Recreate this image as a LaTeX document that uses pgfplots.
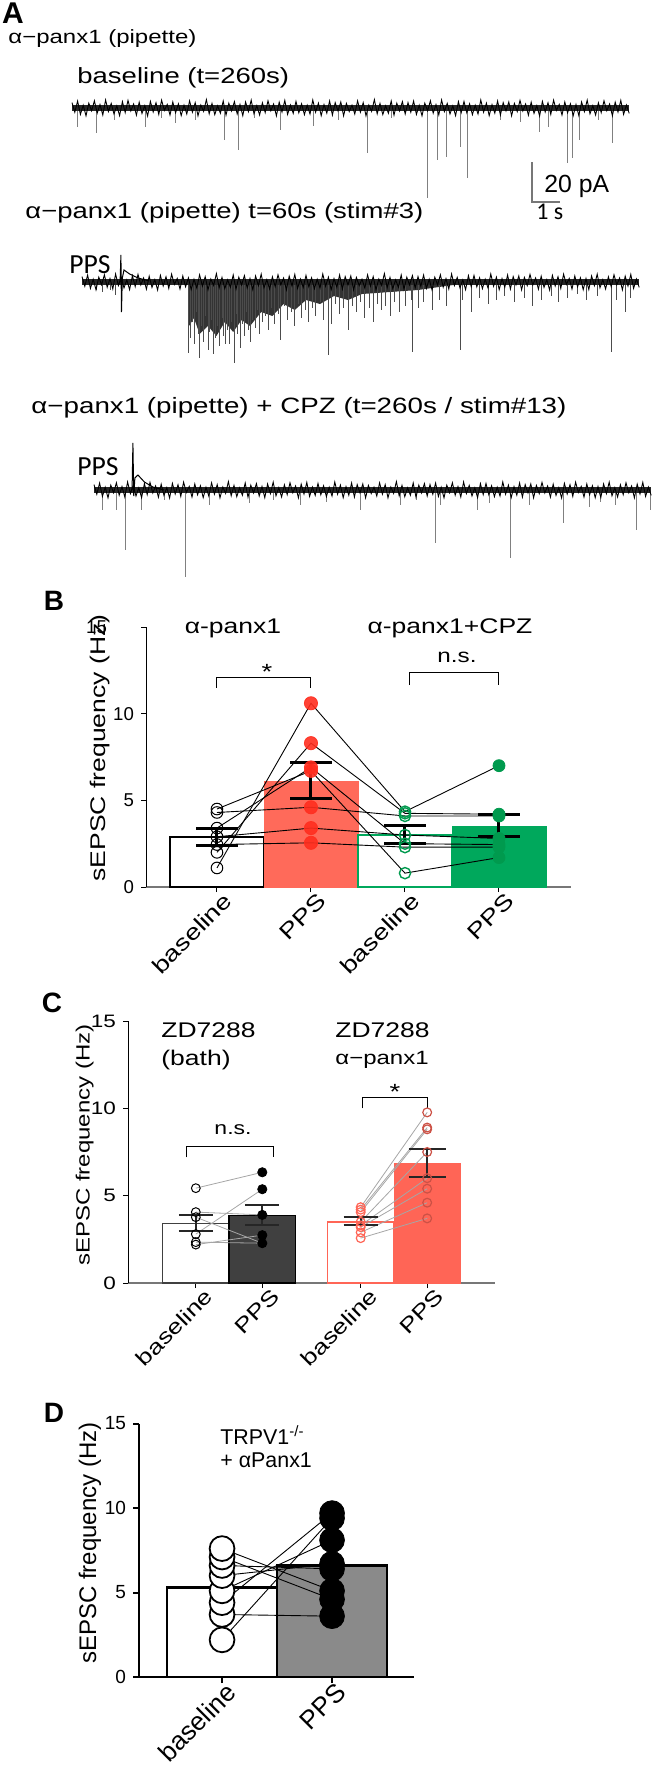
\documentclass[border=0pt]{standalone}
\usepackage{pgfplots}
\pgfplotsset{compat=1.18}
\usepackage{pgfplotstable}
\usepackage{fontspec}
\setmainfont{Liberation Sans}
\newfontfamily\wide[FakeStretch=1.25]{Liberation Sans}
\newfontfamily\carl{Carlito}
\newcommand{\fs}[1]{\fontsize{#1}{#1}\selectfont}
\definecolor{redbar}{HTML}{FF6A5A}
\definecolor{reddot}{HTML}{FF2E1F}
\definecolor{greenbar}{HTML}{00A85C}
\definecolor{greendot}{HTML}{009A4E}
\definecolor{darkbar}{HTML}{404040}
\definecolor{graybar}{HTML}{8A8A8A}
\definecolor{redC}{HTML}{FF6556}
\definecolor{axgray}{HTML}{777777}

% sampled baseline noise (pA), one sample every 0.1 s
\pgfplotstableread[row sep=\\]{y\\
2.7\\-2.1\\3.5\\-3.2\\1.4\\-3.9\\2.4\\-1.4\\3.6\\-2.6\\1.7\\-3.5\\4.0\\-1.8\\2.3\\-3.0\\1.1\\-3.8\\3.2\\-2.3\\
3.8\\-1.5\\2.0\\-3.6\\2.9\\-2.7\\1.2\\-4.0\\3.3\\-2.0\\2.6\\-3.2\\3.9\\-1.2\\1.8\\-3.5\\3.0\\-2.4\\2.1\\-3.8\\
1.4\\-3.0\\3.6\\-2.1\\2.7\\-3.9\\1.5\\-1.7\\4.2\\-2.9\\2.3\\-3.3\\1.1\\-2.6\\3.5\\-3.6\\2.4\\-1.5\\3.2\\-3.0\\
1.8\\-3.8\\3.0\\-1.8\\3.9\\-2.9\\1.2\\-3.5\\2.6\\-2.3\\3.6\\-1.4\\2.0\\-3.9\\2.9\\-2.0\\3.8\\-3.2\\1.5\\-2.7\\
3.3\\-2.4\\2.1\\-3.3\\1.4\\-3.0\\4.0\\-2.1\\2.4\\-3.8\\1.7\\-2.6\\3.5\\-3.5\\2.7\\-1.5\\3.0\\-3.9\\2.3\\-1.8\\
1.4\\-3.0\\3.6\\-2.1\\2.7\\-3.9\\1.5\\-1.7\\4.2\\-2.9\\2.3\\-3.3\\1.1\\-2.6\\3.5\\-3.6\\2.4\\-1.5\\3.2\\-3.0\\
2.7\\-2.1\\3.5\\-3.2\\1.4\\-3.9\\2.4\\-1.4\\3.6\\-2.6\\1.7\\-3.5\\4.0\\-1.8\\2.3\\-3.0\\1.1\\-3.8\\3.2\\-2.3\\
3.3\\-2.4\\2.1\\-3.3\\1.4\\-3.0\\4.0\\-2.1\\2.4\\-3.8\\1.7\\-2.6\\3.5\\-3.5\\2.7\\-1.5\\3.0\\-3.9\\2.3\\-1.8\\
3.8\\-1.5\\2.0\\-3.6\\2.9\\-2.7\\1.2\\-4.0\\3.3\\-2.0\\2.6\\-3.2\\3.9\\-1.2\\1.8\\-3.5\\3.0\\-2.4\\2.1\\-3.8\\
1.8\\-3.8\\3.0\\-1.8\\3.9\\-2.9\\1.2\\-3.5\\2.6\\-2.3\\3.6\\-1.4\\2.0\\-3.9\\2.9\\-2.0\\3.8\\-3.2\\1.5\\-2.7\\
}\noisetab

\pgfplotsset{
  trace/.style={scale only axis, hide axis, clip=false, width=280pt, height=70pt,
    xmin=0, xmax=20, ymin=-50, ymax=20, anchor=south west},
  spikes/.style={ycomb, black!50, line width=0.5pt},
  noise/.style={black, line width=0.45pt},
  band/.style={black!85, line width=3pt},
  barax/.style={anchor=south west, scale only axis, ymin=0, ymax=15, clip=false,
    axis x line*=bottom, axis y line*=left, axis line style={-},
    tick align=outside},
  ebar/.style={unbounded coords=jump},
}

\begin{document}
\begin{tikzpicture}
\useasboundingbox (0,0) rectangle (328pt,-889.5pt);

% ---------------- Panel A traces ----------------
\begin{axis}[trace, at={(36pt,-104pt)}]
\addplot[spikes] coordinates {(0.18,-9.5)(0.86,-12.5)(1.5,-6)(2.64,-9.5)(3.2,-5)(3.71,-7.5)(4.4,-6)(5.43,-16)(5.93,-21)(6.5,-5)(7.43,-11)(8.64,-9)(9.5,-6)(10.57,-22.5)(11.4,-5)(12.68,-45)(13.04,-26)(13.39,-24.5)(13.86,-19.5)(14.11,-35)(15.3,-6)(16.0,-7)(16.71,-12)(17.0,-9.5)(17.68,-27.5)(17.89,-25)(18.14,-16)(18.8,-6)(19.32,-17.5)};
\addplot[band] coordinates {(0,0)(19.9,0)};
\addplot[noise] table[x expr=\coordindex/10, y=y]{\noisetab};
\addplot[axgray, line width=0.6pt] coordinates {(16.43,-27)(16.43,-47)(17.43,-47)};
\end{axis}

\begin{axis}[trace, at={(41pt,-191pt)}]
\addplot[fill=black!80, draw=none] coordinates {(3.8,0)(3.82,-22)(4.0,-18)(4.2,-26)(4.5,-22)(4.8,-27)(5.1,-20)(5.4,-25)(5.7,-19)(6.0,-22)(6.4,-15)(6.8,-17)(7.2,-11)(7.6,-14)(8.0,-9)(8.5,-11)(9,-7)(9.5,-9)(10,-6)(11,-5)(12,-4)(13,-2)(14,0)} \closedcycle;
\addplot[spikes, black!70] coordinates {(0.5,-4)(0.72,-5)(1.0,-4)(1.18,-6.5)
(3.8,-35.5)(3.87,-28)(3.95,-20)(4.0,-31)(4.08,-15)(4.15,-26)(4.2,-38)(4.28,-22)(4.35,-30)(4.42,-17)(4.5,-34)(4.56,-25)(4.63,-19)(4.7,-36)(4.78,-28)(4.85,-22)(4.92,-32)(5.0,-18)(5.06,-27)(5.13,-31)(5.2,-24)(5.28,-31)(5.35,-20)(5.43,-40.5)(5.5,-16)(5.57,-26)(5.65,-33)(5.72,-21)(5.8,-27)(5.88,-15)(5.95,-24)(6.02,-30)(6.1,-19)(6.18,-23)(6.26,-14)(6.35,-26)(6.45,-20)(6.55,-17)(6.65,-24)(6.75,-13)(6.87,-21)(7.0,-16)(7.1,-29)(7.22,-12)(7.35,-19)(7.48,-15)(7.6,-22)(7.72,-11)(7.85,-18)(7.98,-14)(8.1,-20)(8.22,-13)(8.35,-17)(8.5,-10)(8.62,-19)(8.8,-36.5)(8.9,-21)(9.05,-11)(9.2,-16)(9.35,-13)(9.5,-24)(9.65,-12)(9.8,-15)(9.95,-10)(10.1,-18)(10.25,-13)(10.4,-20)(10.55,-11)(10.7,-14)(10.85,-12)(11.0,-17)(11.15,-10)(11.35,-15)(11.55,-12)(11.75,-9)(11.8,-35)(12.0,-13)(12.2,-10)(12.5,-14)(12.75,-9)(13.0,-12)(13.5,-34)(13.6,-9)(13.9,-15)(14.2,-8)(14.5,-11)(14.8,-9)(15.1,-7)(15.45,-10)(15.8,-8)(16.1,-12)(16.4,-9)(16.75,-7)(17.0,-10)(17.35,-8)(17.7,-6)(18.0,-9)(18.4,-7)(18.9,-35)(19.1,-9)(19.4,-15)(19.6,-8)};
\addplot[band] coordinates {(0,0)(19.9,0)};
\addplot[noise] table[x expr=\coordindex/10, y=y]{\noisetab};
\addplot[black, line width=0.5pt] coordinates {(1.36,0)(1.39,13.5)(1.41,-15)(1.44,2)(1.5,6)(1.7,4)(2.0,2)(2.4,0.5)};
\end{axis}

\begin{axis}[trace, at={(47pt,-295pt)}]
\addplot[spikes] coordinates {(0.32,-10)(0.79,-10)(1.14,-30)(1.71,-10)(2.5,-5)(3.25,-43.5)(4.14,-7.5)(5.57,-6.5)(6.4,-5)(7.36,-7.5)(8.3,-6)(9.5,-10)(10.93,-7.5)(11.5,-5)(12.18,-26.5)(12.36,-7.5)(13.68,-10)(14.14,-6.5)(14.89,-34)(15.57,-7.5)(16.75,-16.5)(17.71,-8.5)(18.1,-6)(18.61,-7.5)(19.36,-20)(19.86,-10)};
\addplot[band] coordinates {(0,0)(19.9,0)};
\addplot[noise] table[x expr=\coordindex/10, y=y]{\noisetab};
\addplot[black, line width=0.5pt] coordinates {(1.36,0)(1.39,23.5)(1.42,-3)(1.46,6)(1.57,7.5)(1.8,4)(2.1,1.5)(2.5,0)};
\end{axis}

% ---------------- Panel B ----------------
\begin{axis}[barax, at={(73pt,-443.5pt)}, width=212.5pt, height=130pt,
  xmin=-0.755, xmax=3.766,
  x axis line style={axgray, line width=0.8pt}, y axis line style={black, line width=0.5pt},
  major tick length=2.5pt, tick style={black, line width=0.5pt},
  xtick={0,1,2,3}, xticklabels={baseline,PPS,baseline,PPS},
  ytick={0,5,10}, yticklabels={0,5,10},
  extra y ticks={15}, extra y tick labels={15},
  extra y tick style={yticklabel style={xshift=-13.5pt}},
  xticklabel style={font=\wide\fs{11}, xshift=8pt, rotate=45, anchor=east},
  yticklabel style={font=\fs{9.3}}]
\addplot[ybar, bar width=1, bar shift=0pt, fill=white, draw=black, line width=0.6pt] coordinates {(0,2.88)};
\addplot[ybar, bar width=1, bar shift=0pt, fill=redbar, draw=redbar] coordinates {(1,6.1)};
\addplot[ybar, bar width=1, bar shift=0pt, fill=white, draw=greenbar, line width=0.9pt] coordinates {(2,3.0)};
\addplot[ybar, bar width=1, bar shift=0pt, fill=greenbar, draw=greenbar] coordinates {(3,3.5)};
\addplot[black, line width=0.45pt] coordinates {(0,1.1)(1,10.6)(2,4.35)(3,7.0)};
\addplot[black, line width=0.45pt] coordinates {(0,2.0)(1,8.3)(2,4.25)(3,4.2)};
\addplot[black, line width=0.45pt] coordinates {(0,4.5)(1,6.7)(2,0.8)(3,1.7)};
\addplot[black, line width=0.45pt] coordinates {(0,4.3)(1,4.6)(2,4.1)(3,4.1)};
\addplot[black, line width=0.45pt] coordinates {(0,2.9)(1,3.4)(2,3.0)(3,2.8)};
\addplot[black, line width=0.45pt] coordinates {(0,2.45)(1,2.55)(2,2.3)(3,2.3)};
\addplot[black, line width=0.45pt] coordinates {(0,3.4)(1,6.9)(2,2.5)(3,2.45)};
\addplot[only marks, mark=o, mark size=2.9pt, mark options={draw=black, line width=0.5pt}] coordinates {(0,1.1)(0,2.0)(0,4.5)(0,4.3)(0,2.9)(0,2.45)(0,3.4)};
\addplot[only marks, mark=*, mark size=3.3pt, mark options={fill=reddot, draw=reddot, opacity=0.9}] coordinates {(1,10.6)(1,8.3)(1,6.7)(1,4.6)(1,3.4)(1,2.55)(1,6.9)};
\addplot[only marks, mark=o, mark size=2.8pt, mark options={draw=greendot, line width=0.7pt}] coordinates {(2,4.35)(2,4.25)(2,0.8)(2,4.1)(2,3.0)(2,2.3)(2,2.5)};
\addplot[only marks, mark=*, mark size=3pt, mark options={fill=greendot, draw=greendot}] coordinates {(3,7.0)(3,4.2)(3,1.7)(3,4.1)(3,2.8)(3,2.3)(3,2.45)};
% mean +/- SEM
\addplot[ebar, black, line width=1.5pt] coordinates {(-0.223,3.4)(0.223,3.4)(0,nan)(0,3.4)(0,2.4)(0,nan)(-0.223,2.4)(0.223,2.4)};
\addplot[ebar, black, line width=1.5pt] coordinates {(0.777,7.2)(1.223,7.2)(1,nan)(1,7.2)(1,5.1)(1,nan)(0.777,5.1)(1.223,5.1)};
\addplot[ebar, black, line width=1.5pt] coordinates {(1.777,3.55)(2.223,3.55)(2,nan)(2,3.55)(2,2.5)(2,nan)(1.777,2.5)(2.223,2.5)};
\addplot[ebar, black, line width=1.5pt] coordinates {(2.777,4.2)(3.223,4.2)(3,nan)(3,4.2)(3,2.9)(3,nan)(2.777,2.9)(3.223,2.9)};
\draw[black, line width=0.5pt] (axis cs:0,11.5) -- (axis cs:0,12.1) -- (axis cs:1,12.1) -- (axis cs:1,11.5);
\draw[black, line width=0.5pt] (axis cs:2.05,11.65) -- (axis cs:2.05,12.35) -- (axis cs:3,12.35) -- (axis cs:3,11.65);
\end{axis}

% ---------------- Panel C ----------------
\begin{axis}[barax, at={(64pt,-641.5pt)}, width=183.5pt, height=131pt,
  xmin=-1.02, xmax=4.5,
  x axis line style={axgray, line width=0.8pt}, y axis line style={black, line width=0.5pt},
  major tick length=2.5pt, tick style={black, line width=0.5pt},
  xtick={0,1,2.48,3.48}, xticklabels={baseline,PPS,baseline,PPS},
  ytick={0,5,10,15}, yticklabels={0,5,10,15},
  xticklabel style={font=\wide\fs{10.5}, xshift=9pt, rotate=45, anchor=east},
  yticklabel style={font=\wide\fs{9}}]
\addplot[ybar, bar width=1, bar shift=0pt, fill=white, draw=black!75, line width=0.6pt] coordinates {(0,3.43)};
\addplot[ybar, bar width=1, bar shift=0pt, fill=darkbar, draw=black, line width=0.6pt] coordinates {(1,3.85)};
\addplot[ybar, bar width=1, bar shift=0pt, fill=white, draw=redC, line width=0.7pt] coordinates {(2.48,3.5)};
\addplot[ybar, bar width=1, bar shift=0pt, fill=redC, draw=redC] coordinates {(3.48,6.86)};
\addplot[black!35, line width=0.4pt] coordinates {(0,5.43)(1,6.34)};
\addplot[black!35, line width=0.4pt] coordinates {(0,2.8)(1,5.37)};
\addplot[black!35, line width=0.4pt] coordinates {(0,4.06)(1,3.9)};
\addplot[black!35, line width=0.4pt] coordinates {(0,3.77)(1,2.28)};
\addplot[black!35, line width=0.4pt] coordinates {(0,2.2)(1,2.74)};
\addplot[black!35, line width=0.4pt] coordinates {(0,2.34)(1,2.28)};
\addplot[black!35, line width=0.4pt] coordinates {(2.48,4.34)(3.48,9.77)};
\addplot[black!35, line width=0.4pt] coordinates {(2.48,4.2)(3.48,8.9)};
\addplot[black!35, line width=0.4pt] coordinates {(2.48,4.06)(3.48,8.8)};
\addplot[black!35, line width=0.4pt] coordinates {(2.48,3.5)(3.48,7.5)};
\addplot[black!35, line width=0.4pt] coordinates {(2.48,3.3)(3.48,6.0)};
\addplot[black!35, line width=0.4pt] coordinates {(2.48,3.2)(3.48,5.4)};
\addplot[black!35, line width=0.4pt] coordinates {(2.48,2.9)(3.48,4.6)};
\addplot[black!35, line width=0.4pt] coordinates {(2.48,2.57)(3.48,3.7)};
\addplot[only marks, mark=o, mark size=2.2pt, mark options={draw=black, line width=0.5pt}] coordinates {(0,5.43)(0,2.8)(0,4.06)(0,3.77)(0,2.2)(0,2.34)};
\addplot[only marks, mark=*, mark size=2.3pt, mark options={fill=black, draw=black}] coordinates {(1,6.34)(1,5.37)(1,3.9)(1,2.28)(1,2.74)};
\addplot[only marks, mark=o, mark size=2.2pt, mark options={draw=redC, line width=0.6pt}] coordinates {(2.48,4.34)(2.48,4.2)(2.48,4.06)(2.48,3.5)(2.48,3.3)(2.48,3.2)(2.48,2.9)(2.48,2.57)};
\addplot[only marks, mark=o, mark size=2.2pt, mark options={draw=redC!80!black, line width=0.6pt}] coordinates {(3.48,9.77)(3.48,8.9)(3.48,8.8)(3.48,7.5)(3.48,6.0)(3.48,5.4)(3.48,4.6)(3.48,3.7)};
% mean +/- SEM
\addplot[ebar, black!85, line width=1pt] coordinates {(-0.256,3.9)(0.256,3.9)(0,nan)(0,3.9)(0,3.0)(0,nan)(-0.256,3.0)(0.256,3.0)};
\addplot[ebar, black!85, line width=1pt] coordinates {(0.744,4.45)(1.256,4.45)(1,nan)(1,4.45)(1,3.3)(1,nan)(0.744,3.3)(1.256,3.3)};
\addplot[ebar, black!85, line width=1pt] coordinates {(2.224,3.8)(2.736,3.8)(2.48,nan)(2.48,3.8)(2.48,3.3)(2.48,nan)(2.224,3.3)(2.736,3.3)};
\addplot[ebar, black!85, line width=1pt] coordinates {(3.2,7.66)(3.76,7.66)(3.48,nan)(3.48,7.66)(3.48,6.06)(3.48,nan)(3.2,6.06)(3.76,6.06)};
\draw[black, line width=0.5pt] (axis cs:-0.135,7.2) -- (axis cs:-0.135,7.83) -- (axis cs:1.17,7.83) -- (axis cs:1.17,7.2);
\draw[black, line width=0.5pt] (axis cs:2.5,10.0) -- (axis cs:2.5,10.63) -- (axis cs:3.49,10.63) -- (axis cs:3.49,10.0);
\end{axis}

% ---------------- Panel D ----------------
\begin{axis}[barax, at={(69.5pt,-838.5pt)}, width=137.5pt, height=126.75pt,
  xmin=-0.755, xmax=1.745,
  axis line style={black, line width=1.2pt},
  major tick length=3pt, tick style={black, line width=1pt},
  xtick={0,1}, xticklabels={baseline,PPS},
  ytick={0,5,10,15}, yticklabels={0,5,10,15},
  xticklabel style={font=\fs{13}, xshift=7pt, rotate=45, anchor=east},
  yticklabel style={font=\fs{9.5}}]
\addplot[ybar, bar width=1, bar shift=0pt, fill=white, draw=black, line width=1.1pt] coordinates {(0,5.3)};
\addplot[ybar, bar width=1, bar shift=0pt, fill=graybar, draw=black, line width=1.1pt] coordinates {(1,6.6)};
\addplot[black, line width=0.45pt] coordinates {(0,2.2)(1,9.4)};
\addplot[black, line width=0.45pt] coordinates {(0,3.7)(1,3.6)};
\addplot[black, line width=0.45pt] coordinates {(0,4.4)(1,9.7)};
\addplot[black, line width=0.45pt] coordinates {(0,5.1)(1,8.1)};
\addplot[black, line width=0.45pt] coordinates {(0,6.0)(1,6.7)};
\addplot[black, line width=0.45pt] coordinates {(0,6.6)(1,6.4)};
\addplot[black, line width=0.45pt] coordinates {(0,7.1)(1,4.6)};
\addplot[black, line width=0.45pt] coordinates {(0,7.6)(1,5.1)};
\addplot[only marks, mark=*, mark size=6.2pt, mark options={fill=white, draw=black, line width=0.9pt}] coordinates {(0,2.2)(0,3.7)(0,4.4)(0,5.1)(0,6.0)(0,6.6)(0,7.1)(0,7.6)};
\addplot[only marks, mark=*, mark size=6.2pt, mark options={fill=black, draw=black}] coordinates {(1,9.4)(1,3.6)(1,9.7)(1,8.1)(1,6.7)(1,6.4)(1,4.6)(1,5.1)};
\end{axis}

% ---------------- Text ----------------
\node[inner sep=0] at (6.5pt,-6.8pt) {\bfseries\fs{15}A};
\node[anchor=west, inner sep=0] at (4pt,-19.5pt) {\wide\fs{9.6}α−panx1 (pipette)};
\node[anchor=west, inner sep=0] at (38.5pt,-39pt) {\wide\fs{11}baseline (t=260s)};
\node[anchor=west, inner sep=0] at (272pt,-93pt) {\fs{12.4}20 pA};
\node[anchor=west, inner sep=0] at (268pt,-106pt) {\carl\fs{12}1 s};
\node[anchor=west, inner sep=0] at (12.5pt,-106.5pt) {\wide\fs{11}α−panx1 (pipette) t=60s (stim\#3)};
\node[anchor=west, inner sep=0] at (34.5pt,-132.5pt) {\carl\fs{13.8}PPS};
\node[anchor=west, inner sep=0] at (15.5pt,-204pt) {\wide\fs{11.1}α−panx1 (pipette) + CPZ (t=260s / stim\#13)};
\node[anchor=west, inner sep=0] at (38.5pt,-233.5pt) {\carl\fs{13.8}PPS};

\node[inner sep=0] at (27pt,-300.5pt) {\bfseries\fs{14}B};
\node[inner sep=0] at (116.5pt,-314pt) {\wide\fs{10.6}α-panx1};
\node[inner sep=0] at (225pt,-314pt) {\wide\fs{10.6}α-panx1+CPZ};
\node[inner sep=0] at (133.5pt,-336pt) {\wide\fs{11}*};
\node[inner sep=0] at (228.5pt,-328.5pt) {\wide\fs{9.7}n.s.};
\node[rotate=90, inner sep=0] at (50pt,-374pt) {\wide\fs{10.6}sEPSC frequency (Hz)};

\node[inner sep=0] at (26pt,-501.5pt) {\bfseries\fs{14}C};
\node[anchor=west, inner sep=0] at (80.5pt,-515pt) {\wide\fs{10.6}ZD7288};
\node[anchor=west, inner sep=0] at (80.5pt,-530pt) {\wide\fs{10.6}(bath)};
\node[anchor=west, inner sep=0] at (167.5pt,-515pt) {\wide\fs{10.6}ZD7288};
\node[anchor=west, inner sep=0] at (167.5pt,-530pt) {\wide\fs{9.6}α−panx1};
\node[inner sep=0] at (116.5pt,-565pt) {\wide\fs{9.2}n.s.};
\node[inner sep=0] at (197.5pt,-546pt) {\wide\fs{11}*};
\node[rotate=90, inner sep=0] at (42.3pt,-572.5pt) {\wide\fs{9.6}sEPSC frequency (Hz)};

\node[inner sep=0] at (27pt,-706.5pt) {\bfseries\fs{14}D};
\node[anchor=west, inner sep=0] at (110pt,-717.5pt) {\fs{10.7}TRPV1\textsuperscript{-/-}};
\node[anchor=west, inner sep=0] at (110pt,-730pt) {\fs{10.7}+ αPanx1};
\node[rotate=90, inner sep=0] at (45pt,-771.5pt) {\fs{12}sEPSC frequency (Hz)};
\end{tikzpicture}
\end{document}
